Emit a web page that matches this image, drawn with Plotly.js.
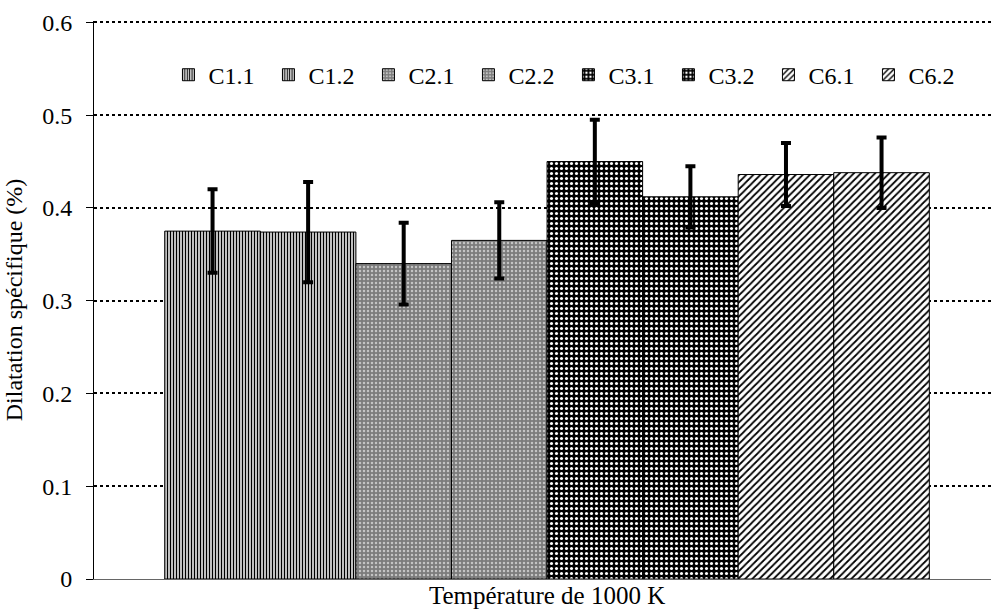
<!DOCTYPE html>
<html>
<head>
<meta charset="utf-8">
<script src="https://cdn.plot.ly/plotly-3.0.1.min.js"></script>
<style>html,body{margin:0;padding:0;background:#fff;}#chart{width:991px;height:614px;}</style>
</head>
<body>
<div id="chart"></div>
<script>
var category = ["Température de 1000 K"];
var seriesNames = ["C1.1", "C1.2", "C2.1", "C2.2", "C3.1", "C3.2", "C6.1", "C6.2"];
var values = [0.375, 0.374, 0.340, 0.365, 0.450, 0.412, 0.436, 0.438];
var errors = [0.045, 0.054, 0.044, 0.041, 0.045, 0.033, 0.034, 0.038];

var styles = [
  {shape: "|", bgcolor: "#ffffff", fgcolor: "#000000", size: 3, solidity: 0.5},
  {shape: "|", bgcolor: "#ffffff", fgcolor: "#000000", size: 3, solidity: 0.5},
  {shape: ".", bgcolor: "#7c7c7c", fgcolor: "#c4c4c4", size: 4, solidity: 0.3},
  {shape: ".", bgcolor: "#7c7c7c", fgcolor: "#c4c4c4", size: 4, solidity: 0.3},
  {shape: ".", bgcolor: "#000000", fgcolor: "#ffffff", size: 5, solidity: 0.3},
  {shape: ".", bgcolor: "#000000", fgcolor: "#ffffff", size: 5, solidity: 0.3},
  {shape: "/", bgcolor: "#ffffff", fgcolor: "#000000", size: 5, solidity: 0.35},
  {shape: "/", bgcolor: "#ffffff", fgcolor: "#000000", size: 5, solidity: 0.35}
];

var traces = seriesNames.map(function (name, i) {
  var s = styles[i];
  return {
    type: "bar",
    name: name,
    x: category,
    y: [values[i]],
    marker: {
      color: s.bgcolor,
      pattern: {shape: s.shape, bgcolor: s.bgcolor, fgcolor: s.fgcolor, size: s.size, solidity: s.solidity, fillmode: "replace"},
      line: {color: "#000000", width: 1}
    },
    error_y: {type: "data", array: [errors[i]], visible: true, color: "#000000", thickness: 4, width: 5}
  };
});

var font = "Liberation Serif";
var layout = {
  width: 991,
  height: 614,
  margin: {l: 94, r: 0, t: 21, b: 35},
  paper_bgcolor: "#ffffff",
  plot_bgcolor: "#ffffff",
  barmode: "group",
  bargap: 0.235,
  bargroupgap: 0,
  font: {family: font, size: 24, color: "#000000"},
  showlegend: true,
  legend: {
    orientation: "h",
    x: 0.083, xanchor: "left",
    y: 0.903, yanchor: "middle",
    font: {family: font, size: 24, color: "#000000"},
    bgcolor: "rgba(0,0,0,0)",
    entrywidth: 55,
    entrywidthmode: "pixels",
    traceorder: "normal"
  },
  xaxis: {
    type: "category",
    range: [-0.4533, 0.4442],
    showline: true,
    linecolor: "#666666",
    linewidth: 1,
    showgrid: false,
    zeroline: false,
    ticks: "",
    ticklabelstandoff: -6,
    tickfont: {family: font, size: 25, color: "#000000"}
  },
  yaxis: {
    range: [0, 0.6015],
    tickvals: [0, 0.1, 0.2, 0.3, 0.4, 0.5, 0.6],
    ticktext: ["0", "0.1", "0.2", "0.3", "0.4", "0.5", "0.6"],
    showline: true,
    linecolor: "#000000",
    linewidth: 1,
    ticks: "outside",
    ticklen: 7,
    tickcolor: "#000000",
    ticklabelstandoff: 9,
    showgrid: true,
    gridcolor: "#000000",
    gridwidth: 2,
    griddash: "3px,3px",
    zeroline: false,
    tickfont: {family: font, size: 24, color: "#000000"},
    title: {text: "Dilatation spécifique (%)", font: {family: font, size: 24, color: "#000000"}, standoff: 12}
  }
};

Plotly.newPlot("chart", traces, layout, {displayModeBar: false, staticPlot: true});
</script>
</body>
</html>
